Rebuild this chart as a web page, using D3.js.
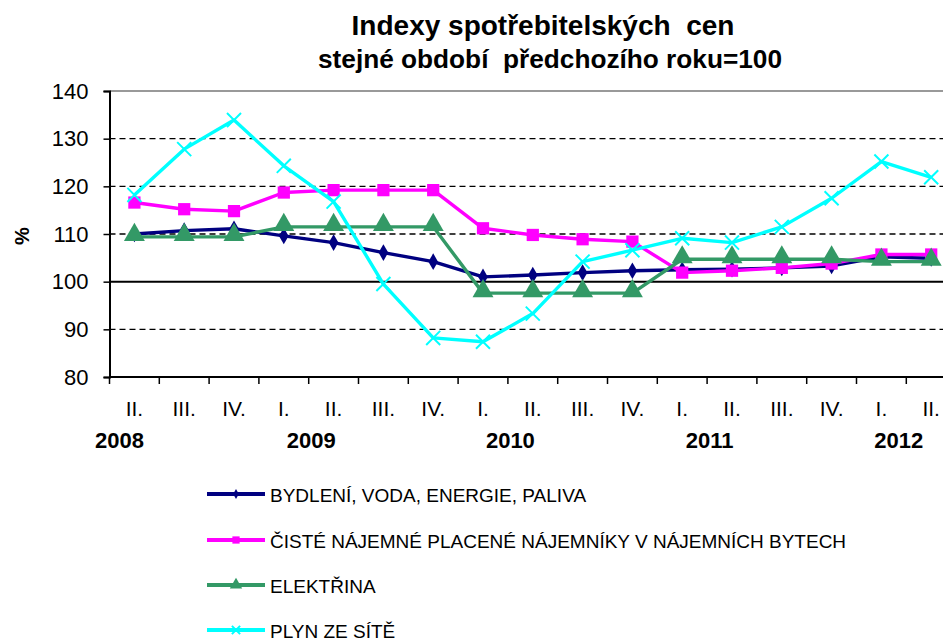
<!DOCTYPE html>
<html><head><meta charset="utf-8">
<script src="https://cdn.jsdelivr.net/npm/d3@7"></script>
<style>
html,body{margin:0;padding:0;background:#fff;overflow:hidden}
text{font-family:Arial,"Liberation Sans",sans-serif}
</style></head>
<body><svg id="c" width="943" height="643"></svg>
<script>
const categories = ["II.","III.","IV.","I.","II.","III.","IV.","I.","II.","III.","IV.","I.","II.","III.","IV.","I.","II."];
const years = ["2008","2009","2010","2011","2012"];
const yearPos = [0.2, 4.05, 8.05, 12.05, 15.85];
const yTicks = [80, 90, 100, 110, 120, 130, 140];
const bydleni   = [110.0,110.7,111.1,109.6,108.2,106.1,104.2,101.0,101.4,101.9,102.3,102.5,102.6,102.9,103.3,105.2,104.9];
const najemne   = [116.6,115.2,114.8,118.7,119.2,119.2,119.2,111.2,109.8,108.9,108.4,101.9,102.3,102.9,103.8,105.7,105.7];
const elektrina = [109.4,109.4,109.4,111.5,111.5,111.5,111.5,97.6,97.6,97.6,97.6,104.7,104.7,104.7,104.7,104.2,104.2];
const plyn      = [118.2,127.8,133.9,124.3,116.8,99.5,88.2,87.4,93.3,104.2,106.6,109.1,108.2,111.5,117.5,125.2,121.9];
const seriesNames = ["BYDLENÍ, VODA, ENERGIE, PALIVA","ČISTÉ NÁJEMNÉ PLACENÉ NÁJEMNÍKY V NÁJEMNÍCH BYTECH","ELEKTŘINA","PLYN ZE SÍTĚ"];
const titleLines = ["Indexy spotřebitelských  cen","stejné období  předchozího roku=100"];

(function(){
const series = [
  {name:seriesNames[0], values:bydleni, color:"#000080", symbol:d3.symbolDiamond, size:80, fill:true},
  {name:seriesNames[1], values:najemne, color:"#FF00FF", symbol:d3.symbolSquare, size:150, fill:true},
  {name:seriesNames[2], values:elektrina, color:"#339966", symbol:d3.symbolTriangle, size:190, fill:true},
  {name:seriesNames[3], values:plyn, color:"#00FFFF", symbol:d3.symbolX, size:130, fill:false}
];

const svg = d3.select("#c");
const pLeft = 109.5, pTop = 91, pBottom = 377, step = 49.8;
const x = d3.scaleBand().domain(d3.range(categories.length)).range([pLeft, pLeft + step*categories.length]).paddingInner(0).paddingOuter(0);
const y = d3.scaleLinear().domain([80,140]).range([pBottom, pTop]);
const cx = i => x(i) + x.bandwidth()/2;

svg.append("text").attr("x",543).attr("y",35).attr("text-anchor","middle").style("white-space","pre")
  .style("font-weight","bold").style("font-size","28px").text(titleLines[0]);
svg.append("text").attr("x",318).attr("y",68).style("white-space","pre")
  .attr("textLength",464).attr("lengthAdjust","spacingAndGlyphs")
  .style("font-weight","bold").style("font-size","26px").text(titleLines[1]);

const g = svg.append("g");
yTicks.filter(v => v>80).forEach(v => {
  const ln = g.append("line").attr("x1",pLeft).attr("x2",943).attr("y1",y(v)).attr("y2",y(v));
  if (v === 140) ln.attr("stroke","#999").attr("stroke-width",2);
  else if (v === 100) ln.attr("stroke","#000").attr("stroke-width",2);
  else ln.attr("stroke","#000").attr("stroke-width",1.3).attr("stroke-dasharray","6,4");
});

const yAxis = d3.axisLeft(y).tickValues(yTicks).tickSize(6).tickPadding(15);
const ya = svg.append("g").attr("transform",`translate(${pLeft},0)`).call(yAxis);
ya.select(".domain").attr("stroke","#000").attr("stroke-width",2);
ya.selectAll(".tick line").attr("stroke","#000").attr("stroke-width",1.5);
ya.selectAll(".tick text").style("font-size","22px").style("font-family","Arial, Liberation Sans, sans-serif").attr("fill","#000");

const xAxis = d3.axisBottom(x).tickSize(0).tickFormat(i => categories[i]).tickPadding(24);
const xa = svg.append("g").attr("transform",`translate(0,${pBottom})`).call(xAxis);
xa.select(".domain").remove();
xa.selectAll(".tick text").style("font-size","21px").style("font-family","Arial, Liberation Sans, sans-serif").attr("fill","#000");
svg.append("line").attr("x1",pLeft).attr("x2",943).attr("y1",pBottom).attr("y2",pBottom).attr("stroke","#000").attr("stroke-width",2);
d3.range(categories.length+1).forEach(i => {
  const xx = x(0) + step*i;
  svg.append("line").attr("x1",xx).attr("x2",xx).attr("y1",pBottom).attr("y2",pBottom+7).attr("stroke","#000").attr("stroke-width",1.5);
});
years.forEach((yr,i) => {
  svg.append("text").attr("x", x(0) + step*yearPos[i]).attr("y",448).attr("text-anchor","middle")
    .style("font-weight","bold").style("font-size","22px").text(yr);
});

svg.append("text").attr("transform","translate(29,236) rotate(-90)").attr("text-anchor","middle")
  .style("font-weight","bold").style("font-size","20px").text("%");

const line = d3.line().x((d,i)=>cx(i)).y(d=>y(d));
series.forEach(s => {
  svg.append("path").datum(s.values).attr("d",line).attr("fill","none")
    .attr("stroke",s.color).attr("stroke-width",3.4).attr("stroke-linejoin","round");
});
series.forEach(s => {
  const sym = d3.symbol().type(s.symbol).size(s.size);
  svg.append("g").selectAll("path").data(s.values).join("path")
    .attr("d",sym)
    .attr("transform",(d,i)=>`translate(${cx(i)},${y(d) + (s.symbol===d3.symbolTriangle?-2:0)})`)
    .attr("fill", s.fill ? s.color : "none")
    .attr("stroke", s.fill ? "none" : s.color)
    .attr("stroke-width", 2);
});

const legY = [494, 540, 585, 630];
series.forEach((s,i) => {
  const lg = svg.append("g").attr("transform",`translate(207,${legY[i]})`);
  lg.append("line").attr("x1",0).attr("x2",58).attr("y1",0).attr("y2",0).attr("stroke",s.color).attr("stroke-width",4);
  lg.append("path").attr("d",d3.symbol().type(s.symbol).size(s.size*0.35)).attr("transform",`translate(29,0)`)
    .attr("fill",s.fill ? s.color : "none").attr("stroke", s.fill ? "none" : s.color).attr("stroke-width",2);
  lg.append("text").attr("x",63).attr("y",7.5).style("font-size","19px").text(s.name);
});
})();
</script></body></html>
